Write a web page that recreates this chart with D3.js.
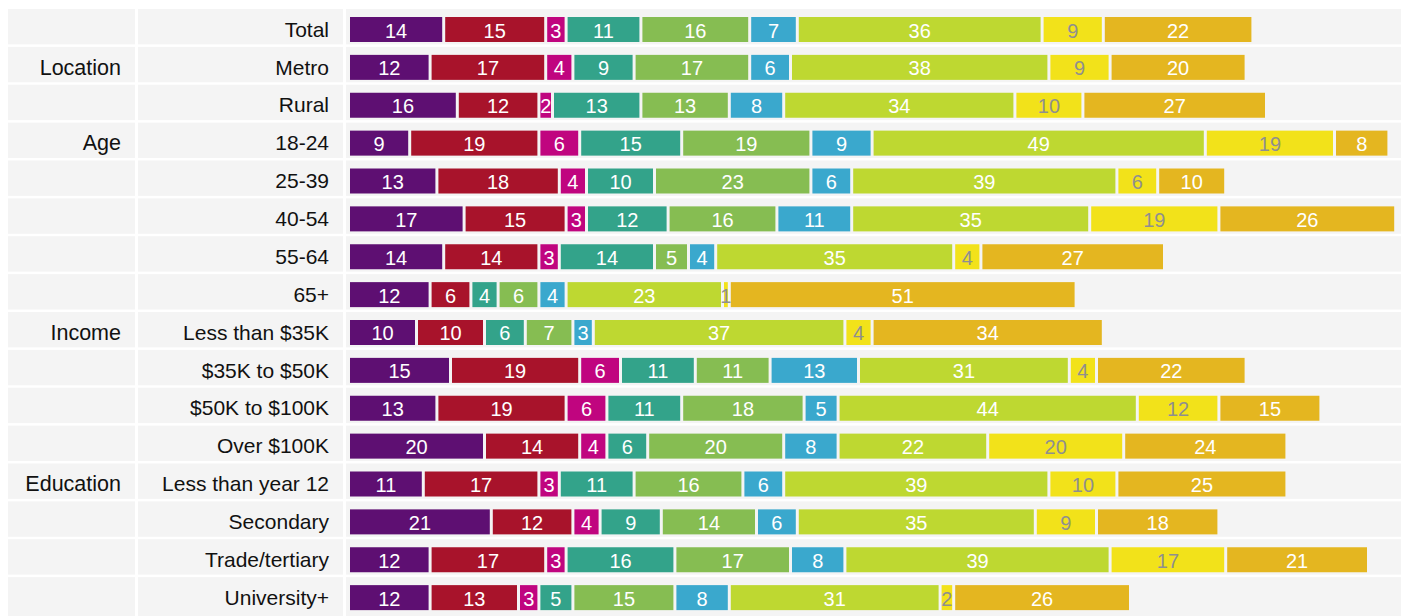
<!DOCTYPE html>
<html>
<head>
<meta charset="utf-8">
<script src="https://cdn.jsdelivr.net/npm/d3@7"></script>
<style>
html,body{margin:0;padding:0;background:#fff;}
svg{display:block;}
text{font-family:"Liberation Sans",Arial,Helvetica,sans-serif;}
</style>
</head>
<body>
<svg id="chart" width="1406" height="616"></svg>
<script>
const groups = ["", "Location", "", "Age", "", "", "", "", "Income", "", "", "", "Education", "", "", ""];
const categories = ["Total","Metro","Rural","18-24","25-39","40-54","55-64","65+","Less than $35K","$35K to $50K","$50K to $100K","Over $100K","Less than year 12","Secondary","Trade/tertiary","University+"];

const s1 = [14,12,16, 9,13,17,14,12,10,15,13,20,11,21,12,12];
const s2 = [15,17,12,19,18,15,14, 6,10,19,19,14,17,12,17,13];
const s3 = [ 3, 4, 2, 6, 4, 3, 3, 0, 0, 6, 6, 4, 3, 4, 3, 3];
const s4 = [11, 9,13,15,10,12,14, 4, 6,11,11, 6,11, 9,16, 5];
const s5 = [16,17,13,19,23,16, 5, 6, 7,11,18,20,16,14,17,15];
const s6 = [ 7, 6, 8, 9, 6,11, 4, 4, 3,13, 5, 8, 6, 6, 8, 8];
const s7 = [36,38,34,49,39,35,35,23,37,31,44,22,39,35,39,31];
const s8 = [ 9, 9,10,19, 6,19, 4, 1, 4, 4,12,20,10, 9,17, 2];
const s9 = [22,20,27, 8,10,26,27,51,34,22,15,24,25,18,21,26];

const seriesList = [s1,s2,s3,s4,s5,s6,s7,s8,s9];
const colors = ["#5e0f72","#a8132b","#c0057f","#33a38a","#86bd52","#3aa8cd","#bed831","#f2e21a","#e4b620"];
const labelColors = ["#fff","#fff","#fff","#fff","#fff","#fff","#fff","#8f8f8f","#fff"];

const svg = d3.select("#chart");
const y = d3.scaleBand().domain(categories).range([9, 612.5]).paddingInner(0.066).paddingOuter(0);
const x = d3.scaleLinear().domain([0, 155]).range([348.5, 348.5 + 155*6.8]);

// row backgrounds
const cols = [[8,135],[138,343],[346,1401]];
categories.forEach((c,i)=>{
  cols.forEach(([a,b])=>{
    svg.append("rect").attr("x",a).attr("y",y(c)).attr("width",b-a).attr("height",y.bandwidth()+ (i===categories.length-1 ? 6 : 0)).attr("fill","#f4f4f4");
  });
});

// labels
svg.selectAll("text.grp").data(categories).enter().append("text")
  .attr("class","grp").attr("x",121).attr("y",c=>y(c)+y.bandwidth()/2+10)
  .attr("text-anchor","end").attr("font-size",21.5).attr("fill","#111")
  .text((c,i)=>groups[i]);
svg.selectAll("text.cat").data(categories).enter().append("text")
  .attr("class","cat").attr("x",329).attr("y",c=>y(c)+y.bandwidth()/2+10)
  .attr("text-anchor","end").attr("font-size",21).attr("fill","#111")
  .text(c=>c);

// stacked bars
const segs = [];
categories.forEach((c,i)=>{
  let cum = 0;
  seriesList.forEach((s,k)=>{
    const v = s[i];
    if (v > 0) segs.push({c, k, v, x0:cum, x1:cum+v});
    cum += v;
  });
});
const barOff = 8, barH = 25;
svg.selectAll("rect.seg").data(segs).enter().append("rect")
  .attr("class","seg")
  .attr("x",d=>x(d.x0)+1.5)
  .attr("y",d=>y(d.c)+barOff)
  .attr("width",d=>Math.max(0,x(d.x1)-x(d.x0)-3))
  .attr("height",barH)
  .attr("fill",d=>colors[d.k]);
svg.selectAll("text.seg").data(segs).enter().append("text")
  .attr("class","seg")
  .attr("x",d=>(x(d.x0)+x(d.x1))/2)
  .attr("y",d=>y(d.c)+barOff+barH/2+8)
  .attr("text-anchor","middle").attr("font-size",20)
  .attr("fill",d=>labelColors[d.k])
  .text(d=>d.v);
</script>
</body>
</html>
